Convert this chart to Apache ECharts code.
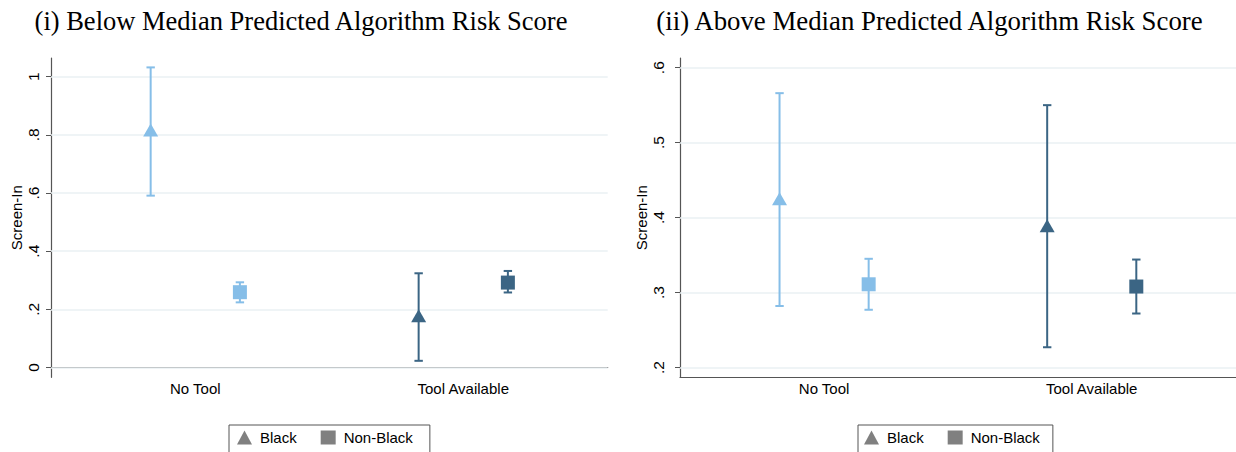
<!DOCTYPE html>
<html><head><meta charset="utf-8">
<script src="https://cdn.jsdelivr.net/npm/echarts@6/dist/echarts.min.js"></script>
<style>html,body{margin:0;padding:0;background:#fff}#c{width:1236px;height:452px}</style>
</head><body><div id="c"></div>
<script>
// ---- data ----
const categories = ['No Tool', 'Tool Available'];
const groups = ['Black', 'Non-Black'];
const panelTitles = ['(i) Below Median Predicted Algorithm Risk Score', '(ii) Above Median Predicted Algorithm Risk Score'];

// Panel (i): below median predicted risk score
const belowBlackEst = [0.817, 0.178];
const belowBlackLo = [0.591, 0.023];
const belowBlackHi = [1.032, 0.324];
const belowNonBlackEst = [0.259, 0.292];
const belowNonBlackLo = [0.224, 0.258];
const belowNonBlackHi = [0.293, 0.332];

// Panel (ii): above median predicted risk score
const aboveBlackEst = [0.425, 0.389];
const aboveBlackLo = [0.282, 0.227];
const aboveBlackHi = [0.566, 0.550];
const aboveNonBlackEst = [0.311, 0.308];
const aboveNonBlackLo = [0.277, 0.272];
const aboveNonBlackHi = [0.345, 0.344];

const belowTicks = [0, 0.2, 0.4, 0.6, 0.8, 1];
const belowTickLabels = ['0', '.2', '.4', '.6', '.8', '1'];
const aboveTicks = [0.2, 0.3, 0.4, 0.5, 0.6];
const aboveTickLabels = ['.2', '.3', '.4', '.5', '.6'];

// ---- styles ----
const catColors = ['#86bee8', '#3b6584'];
const OFFSET = 0.1665;
const SANS = 'Liberation Sans';
const axisColor = '#555555';
const gridColor = '#eaf0f3';

function labelFor(ticks, labels) {
  return v => {
    for (let i = 0; i < ticks.length; i++) if (Math.abs(ticks[i] - v) < 1e-6) return labels[i];
    return '';
  };
}

const panels = [
  {be: belowBlackEst, bl: belowBlackLo, bh: belowBlackHi, ne: belowNonBlackEst, nl: belowNonBlackLo, nh: belowNonBlackHi,
   ticks: belowTicks, labels: belowTickLabels, ymin: -0.0337, ymax: 1.0643, left: 51, width: 556.7, lblMargin: 10},
  {be: aboveBlackEst, bl: aboveBlackLo, bh: aboveBlackHi, ne: aboveNonBlackEst, nl: aboveNonBlackLo, nh: aboveNonBlackHi,
   ticks: aboveTicks, labels: aboveTickLabels, ymin: 0.1869, ymax: 0.6129, left: 680, width: 557.5, lblMargin: 14}
];

const grid = [], xAxis = [], yAxis = [], series = [];
panels.forEach((p, k) => {
  grid.push({left: p.left, top: 58, width: p.width, height: 319.3, containLabel: false});
  xAxis.push({
    type: 'value', gridIndex: k, min: 0.4616, max: 2.539,
    axisLine: {show: true, lineStyle: {color: axisColor, width: 1.2}},
    axisTick: {show: false},
    splitLine: {show: false},
    axisLabel: {customValues: [1, 2], formatter: v => categories[Math.round(v) - 1] || '',
      color: '#000', fontFamily: SANS, fontSize: 15, margin: 4}
  });
  yAxis.push({
    type: 'value', gridIndex: k, min: p.ymin, max: p.ymax,
    name: 'Screen-In', nameLocation: 'middle', nameGap: 27,
    nameTextStyle: {color: '#000', fontFamily: SANS, fontSize: 15},
    axisLine: {show: true, lineStyle: {color: axisColor, width: 1.2}},
    axisTick: {show: true, customValues: p.ticks, length: 5, lineStyle: {color: axisColor}},
    splitLine: {show: false},
    axisLabel: {customValues: p.ticks, formatter: labelFor(p.ticks, p.labels), rotate: 90,
      color: '#000', fontFamily: SANS, fontSize: 15.5, margin: p.lblMargin}
  });
  // error bars
  const ebData = [];
  categories.forEach((c, i) => {
    ebData.push([i + 1 - OFFSET, p.bl[i], p.bh[i], i]);
    ebData.push([i + 1 + OFFSET, p.nl[i], p.nh[i], i]);
  });
  series.push({
    type: 'custom', xAxisIndex: k, yAxisIndex: k, z: 2, clip: false, silent: true,
    data: ebData, encode: {x: 0, y: [1, 2]},
    renderItem(params, api) {
      const x = api.value(0), lo = api.value(1), hi = api.value(2);
      const col = catColors[api.value(3)];
      const t = api.coord([x, hi]), b = api.coord([x, lo]);
      const hw = 4.2;
      const style = {stroke: col, lineWidth: 2, fill: null};
      return {type: 'group', children: [
        {type: 'line', shape: {x1: t[0], y1: t[1], x2: b[0], y2: b[1]}, style},
        {type: 'line', shape: {x1: t[0] - hw, y1: t[1], x2: t[0] + hw, y2: t[1]}, style},
        {type: 'line', shape: {x1: b[0] - hw, y1: b[1], x2: b[0] + hw, y2: b[1]}, style}
      ]};
    }
  });
  series.push({
    name: groups[0], type: 'scatter', xAxisIndex: k, yAxisIndex: k, z: 3,
    symbol: 'triangle', symbolSize: [15, 13], itemStyle: {color: '#808080', opacity: 1},
    data: categories.map((c, i) => ({value: [i + 1 - OFFSET, p.be[i]], itemStyle: {color: catColors[i]}})),
    markLine: {
      silent: true, symbol: ['none', 'none'], label: {show: false}, z: 1, animation: false,
      lineStyle: {color: gridColor, type: 'solid', width: 1.5},
      emphasis: {disabled: true},
      data: p.ticks.map(t => ({yAxis: t}))
    }
  });
  series.push({
    name: groups[1], type: 'scatter', xAxisIndex: k, yAxisIndex: k, z: 3,
    symbol: 'rect', symbolSize: 14, itemStyle: {color: '#808080', opacity: 1},
    data: categories.map((c, i) => ({value: [i + 1 + OFFSET, p.ne[i]], itemStyle: {color: catColors[i]}}))
  });
});

const legendCommon = {
  top: 425, orient: 'horizontal', itemWidth: 15, itemHeight: 14, itemGap: 24,
  borderColor: '#555', borderWidth: 1, borderRadius: 0,
  textStyle: {color: '#000', fontFamily: SANS, fontSize: 15, padding: [0, 0, 0, 3]},
  selectedMode: false,
  data: [{name: groups[0], icon: 'triangle'}, {name: groups[1], icon: 'rect'}]
};

const option = {
  backgroundColor: '#fff',
  animation: false,
  graphic: [
    {type: 'text', x: 301, y: 21, style: {text: panelTitles[0], align: 'center', verticalAlign: 'middle',
      font: 'normal 26.5px "Liberation Serif"', fill: '#000'}},
    {type: 'text', x: 929.5, y: 21, style: {text: panelTitles[1], align: 'center', verticalAlign: 'middle',
      font: 'normal 26.8px "Liberation Serif"', fill: '#000'}}
  ],
  legend: [
    Object.assign({}, legendCommon, {left: 229, padding: [5, 17, 12, 8]}),
    Object.assign({}, legendCommon, {left: 858, padding: [5, 13, 12, 6]})
  ],
  grid, xAxis, yAxis, series
};

const chart = echarts.init(document.getElementById('c'), null, {renderer: 'svg'});
chart.setOption(option);
</script>
</body></html>
